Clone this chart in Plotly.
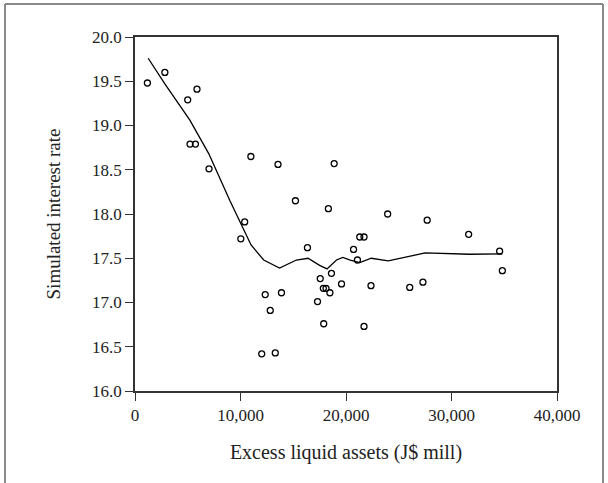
import plotly.graph_objects as go

# Scatter data: excess liquid assets (J$ mill) vs simulated interest rate
assets = [1175, 2830, 4995, 5876, 5216, 5730, 7016, 10983, 10395, 10028,
          13554, 15207, 18329, 18880, 16345, 23949, 27695, 31625, 20716, 21304,
          21708, 21083, 34563, 34821, 17557, 18622, 19577, 22369, 26042, 27291,
          17851, 18108, 18476, 17300, 12342, 13884, 12819, 17888, 21708, 12011,
          13297]
rates = [19.48, 19.60, 19.29, 19.41, 18.79, 18.79, 18.51, 18.65, 17.91, 17.72,
         18.56, 18.15, 18.06, 18.57, 17.62, 18.00, 17.93, 17.77, 17.60, 17.74,
         17.74, 17.48, 17.58, 17.36, 17.27, 17.33, 17.21, 17.19, 17.17, 17.23,
         17.16, 17.16, 17.11, 17.01, 17.09, 17.11, 16.91, 16.76, 16.73, 16.42,
         16.43]

# Smoothed (loess) fit line
fit_x = [1250, 2830, 5200, 7000, 9000, 10300, 11000, 12200, 13700, 15300,
         16400, 17500, 18200, 19100, 19700, 20400, 21300, 22400, 24000, 27500,
         31700, 34800]
fit_y = [19.76, 19.47, 19.06, 18.68, 18.15, 17.82, 17.65, 17.48, 17.39, 17.48,
         17.50, 17.42, 17.38, 17.48, 17.51, 17.48, 17.45, 17.50, 17.47, 17.56,
         17.545, 17.55]

x_ticks = [0, 10000, 20000, 30000, 40000]
y_ticks = [16.0, 16.5, 17.0, 17.5, 18.0, 18.5, 19.0, 19.5, 20.0]

font_family = "Liberation Serif, Times New Roman, serif"

fig = go.Figure()
fig.add_trace(go.Scatter(
    x=fit_x, y=fit_y, mode="lines",
    line=dict(color="black", width=1.3), showlegend=False, hoverinfo="skip"))
fig.add_trace(go.Scatter(
    x=assets, y=rates, mode="markers",
    marker=dict(symbol="circle-open", size=6, color="black",
                line=dict(width=1.3, color="black")),
    showlegend=False))

axis_common = dict(
    showline=True, linecolor="#333", linewidth=1.5, mirror=True,
    ticks="outside", ticklen=8, tickwidth=1.2, tickcolor="#333",
    showgrid=False, zeroline=False,
    tickfont=dict(family=font_family, size=17, color="#222"),
)

fig.update_xaxes(
    range=[0, 40000], tickvals=x_ticks, tickformat=",",
    title=dict(text="Excess liquid assets (J$ mill)",
               font=dict(family=font_family, size=20, color="#222"),
               standoff=21),
    **axis_common)
fig.update_yaxes(
    range=[16, 20], tickvals=y_ticks, tickformat=".1f",
    title=dict(text="Simulated interest rate",
               font=dict(family=font_family, size=19, color="#222"),
               standoff=26),
    **axis_common)

# Outer gray frame (left, top and right edges)
frame = dict(color="#8a8a8a", width=2)
fig.add_shape(type="line", xref="paper", yref="paper",
              x0=-0.308, x1=-0.308, y0=-0.3, y1=1.093, line=frame)
fig.add_shape(type="line", xref="paper", yref="paper",
              x0=-0.308, x1=1.109, y0=1.093, y1=1.093, line=frame)
fig.add_shape(type="line", xref="paper", yref="paper",
              x0=1.109, x1=1.109, y0=-0.3, y1=1.093, line=frame)

fig.update_layout(
    width=608, height=483,
    margin=dict(l=135, r=51, t=37, b=92),
    plot_bgcolor="white", paper_bgcolor="white",
)

fig.write_html("out.html")
